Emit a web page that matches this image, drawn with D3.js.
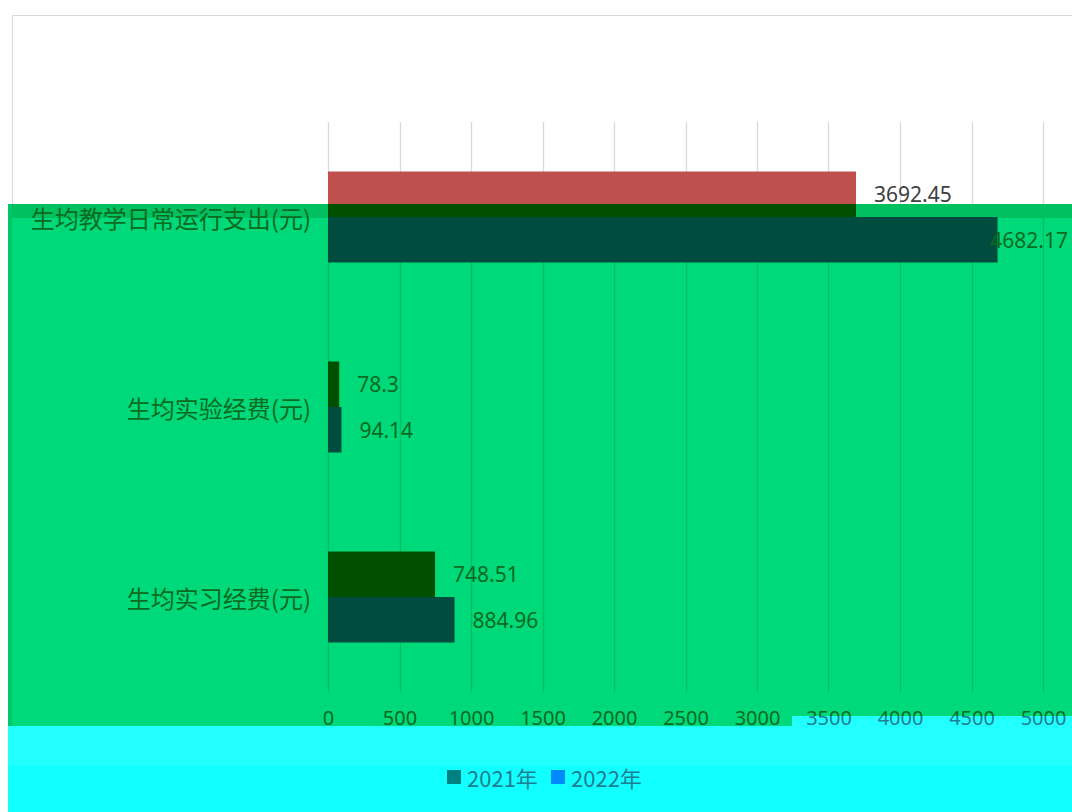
<!DOCTYPE html>
<html><head><meta charset="utf-8">
<script src="https://cdn.jsdelivr.net/npm/d3@7/dist/d3.min.js"></script>
<style>html,body{margin:0;padding:0;background:#fff;overflow:hidden}</style>
</head><body>
<svg id="c" width="1072" height="812"></svg>
<script>
const categories = ['生均教学日常运行支出(元)', '生均实验经费(元)', '生均实习经费(元)'];
const seriesNames = ['2021年', '2022年'];
const values2021 = [3692.45, 78.3, 748.51];
const values2022 = [4682.17, 94.14, 884.96];
const tickValues = [0, 500, 1000, 1500, 2000, 2500, 3000, 3500, 4000, 4500, 5000];

const W = 1072, H = 812;
const svg = d3.select('#c');
const defs = svg.append('defs');

const x = d3.scaleLinear().domain([0, 5000]).range([328, 1043]);
const y = d3.scaleBand().domain(categories).range([122, 692]);
const inner = d3.scaleBand().domain(seriesNames).range([0, 91]);
const innerOff = (y.bandwidth() - 91) / 2;
const series = [values2021, values2022];

// backgrounds
svg.append('rect').attr('x', 0).attr('y', 0).attr('width', W).attr('height', H).attr('fill', '#fff');
svg.append('rect').attr('x', 12.5).attr('y', 15.5).attr('width', W).attr('height', H).attr('fill', 'none').attr('stroke', '#D9D9D9');
svg.append('rect').attr('x', 8).attr('y', 204).attr('width', W - 8).attr('height', 522).attr('fill', '#00D97A');
svg.append('rect').attr('x', 8).attr('y', 204).attr('width', W - 8).attr('height', 14).attr('fill', '#00C060');
svg.append('rect').attr('x', 8).attr('y', 204).attr('width', 4).attr('height', 522).attr('fill', '#00C868');
svg.append('rect').attr('x', 8).attr('y', 726).attr('width', W - 8).attr('height', H - 726).attr('fill', '#22FFFF');
svg.append('rect').attr('x', 792).attr('y', 716).attr('width', W - 792).attr('height', 12).attr('fill', '#22FFFF');
svg.append('rect').attr('x', 8).attr('y', 766).attr('width', W - 8).attr('height', H - 766).attr('fill', '#11FFFF');

const bands = [
  {id: 'top', grid: '#D9D9D9', text: '#404040', bars: ['#C0504D', '#4F81BD']},
  {id: 'mid', grid: '#00BF5F', text: '#0B6B1F', bars: ['#005000', '#004D40']},
  {id: 'bot', grid: '#22EEEE', text: '#1C7F93', bars: ['#008080', '#0088FF']}
];

function draw(b) {
  const cp = defs.append('clipPath').attr('id', 'clip-' + b.id);
  if (b.id === 'bot') {
    cp.append('rect').attr('x', 0).attr('y', 726).attr('width', 792).attr('height', H - 726);
    cp.append('rect').attr('x', 792).attr('y', 716).attr('width', W - 792).attr('height', H - 716);
  } else if (b.id === 'mid') {
    cp.append('rect').attr('x', 0).attr('y', 204).attr('width', 792).attr('height', 522);
    cp.append('rect').attr('x', 792).attr('y', 204).attr('width', W - 792).attr('height', 512);
  } else {
    cp.append('rect').attr('x', 0).attr('y', 0).attr('width', W).attr('height', 204);
  }
  const g = svg.append('g').attr('clip-path', 'url(#clip-' + b.id + ')');

  // gridlines
  g.append('g').selectAll('line').data(tickValues).join('line')
    .attr('x1', d => Math.round(x(d)) + 0.5).attr('x2', d => Math.round(x(d)) + 0.5)
    .attr('y1', 122).attr('y2', 692)
    .attr('stroke', b.grid).attr('stroke-width', 1.3);

  // bars
  series.forEach((vals, si) => {
    g.append('g').selectAll('rect').data(vals).join('rect')
      .attr('x', x(0))
      .attr('y', (d, i) => y(categories[i]) + innerOff + inner(seriesNames[si]))
      .attr('width', d => x(d) - x(0))
      .attr('height', inner.bandwidth())
      .attr('fill', b.bars[si]);
  });

  // data labels
  series.forEach((vals, si) => {
    g.append('g').selectAll('text').data(vals).join('text')
      .attr('font-family', 'Noto Sans, sans-serif').attr('font-size', 21)
      .attr('fill', b.text).attr('dominant-baseline', 'central')
      .attr('y', (d, i) => y(categories[i]) + innerOff + inner(seriesNames[si]) + inner.bandwidth() / 2)
      .text(d => d)
      .each(function (d) {
        const t = d3.select(this);
        const w = this.getComputedTextLength();
        let px = x(d) + 18;
        if (px + w > 1068) px = 1068 - w;
        t.attr('x', px);
      });
  });

  // category axis labels
  g.append('g').selectAll('text').data(categories).join('text')
    .attr('font-family', 'Noto Sans CJK SC, sans-serif').attr('font-size', 24)
    .attr('fill', b.text).attr('text-anchor', 'end').attr('dominant-baseline', 'central')
    .attr('x', 311).attr('y', d => y(d) + y.bandwidth() / 2)
    .text(d => d);

  // value axis
  const ax = g.append('g').attr('transform', 'translate(0,708)')
    .call(d3.axisBottom(x).tickValues(tickValues).tickSize(0).tickFormat(d3.format('d')));
  ax.select('.domain').remove();
  ax.selectAll('text').attr('font-family', 'Noto Sans, sans-serif').attr('font-size', 20)
    .attr('fill', b.text).attr('dy', '0.71em');

  // legend
  const lg = g.append('g');
  const items = [{n: seriesNames[0], x: 447}, {n: seriesNames[1], x: 551}];
  items.forEach((it, i) => {
    lg.append('rect').attr('x', it.x).attr('y', 770).attr('width', 14).attr('height', 14).attr('fill', b.bars[i]);
    lg.append('text').attr('x', it.x + 20).attr('y', 777).attr('dominant-baseline', 'central')
      .attr('font-family', 'Noto Sans CJK SC, sans-serif').attr('font-size', 22).attr('fill', b.text).text(it.n);
  });
}
bands.forEach(draw);
</script>
</body></html>
